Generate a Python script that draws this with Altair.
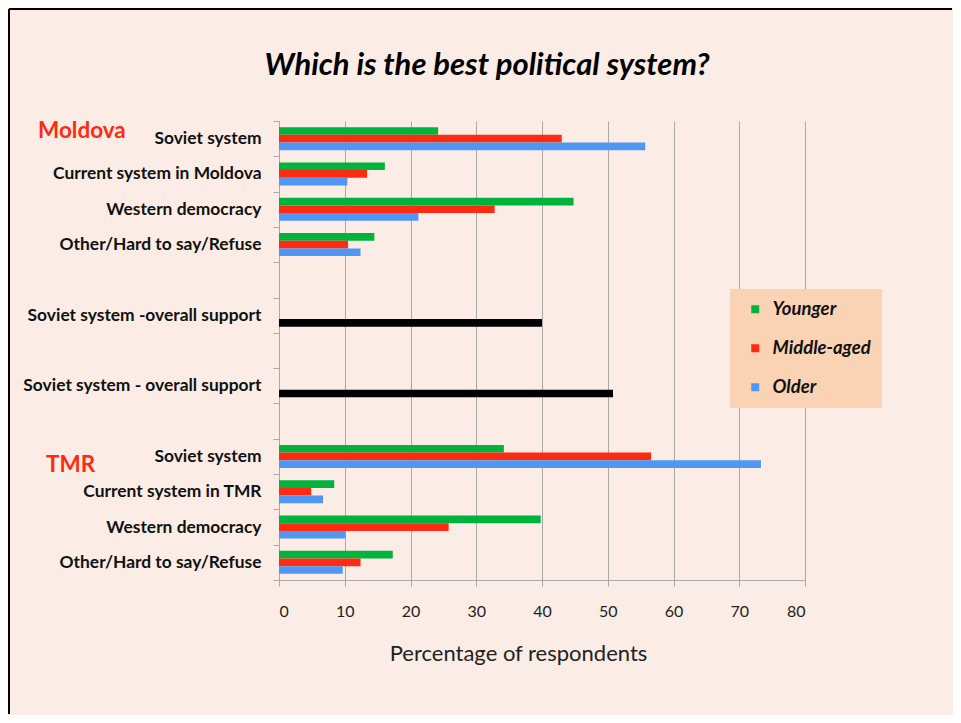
import altair as alt
import pandas as pd

# ---- data ----
labels = ["Soviet system", "Current system in Moldova", "Western democracy",
          "Other/Hard to say/Refuse", "", "Soviet system -overall support", "",
          "Soviet system - overall support", "", "Soviet system",
          "Current system in TMR", "Western democracy", "Other/Hard to say/Refuse"]
younger = [24.2, 16.1, 44.8, 14.5, None, None, None, None, None, 34.2, 8.4, 39.8, 17.3]
middle_aged = [43.0, 13.4, 32.8, 10.5, None, None, None, None, None, 56.6, 4.9, 25.8, 12.4]
older = [55.7, 10.4, 21.2, 12.4, None, None, None, None, None, 73.3, 6.7, 10.1, 9.7]
overall = [None, None, None, None, None, 40.0, None, 50.8, None, None, None, None, None]
groups = ["Younger", "Middle-aged", "Older"]
series_names = ["Younger", "Middle-aged", "Older", "Overall"]
series_colors = ["#00B33C", "#FF2A12", "#4F97F2", "#000000"]
x_ticks = [0, 10, 20, 30, 40, 50, 60, 70, 80]
region_names = ["Moldova", "TMR"]
region_rows = [0, 9]
title_text = ["Which is the best political system?"]

BG = "#FBEDE5"
FONT = "Lato"

keys = [f"{i:02d}|{l}" for i, l in enumerate(labels)]
rows = []
for k, y, m, o, ov in zip(keys, younger, middle_aged, older, overall):
    for g, v in zip(groups, (y, m, o)):
        if v is not None:
            rows.append({"key": k, "series": g, "slot": g, "value": v})
    if ov is not None:
        rows.append({"key": k, "series": "Overall", "slot": "Older", "value": ov})
df = pd.DataFrame(rows)

yscale = alt.Scale(domain=keys, paddingInner=0, paddingOuter=0)

bars = alt.Chart(df).mark_bar().encode(
    x=alt.X("value:Q", scale=alt.Scale(domain=[0, 80], nice=False),
            axis=alt.Axis(values=x_ticks, title="Percentage of respondents",
                          grid=True, gridColor="#A8A8A8", gridWidth=1,
                          domainColor="#A8A8A8", tickColor="#A8A8A8", tickSize=6,
                          labelFont=FONT, labelFontSize=16, labelColor="#222222",
                          labelPadding=17, titleFont=FONT, titleFontSize=22,
                          titleFontWeight="normal", titleColor="#222222",
                          titlePadding=24, titleX=239, titleAlign="center")),
    y=alt.Y("key:N", scale=yscale, sort=keys,
            axis=alt.Axis(title=None, labelExpr="split(datum.label, '|')[1]",
                          tickBand="extent", tickColor="#A8A8A8", tickSize=6,
                          domainColor="#A8A8A8", labelFont=FONT, labelFontSize=17.4,
                          labelFontWeight="bold", labelColor="#111111",
                          labelPadding=12, labelLimit=400, grid=False)),
    yOffset=alt.YOffset("slot:N", scale=alt.Scale(domain=groups, paddingInner=0,
                                                     paddingOuter=0.8)),
    color=alt.Color("series:N",
                    scale=alt.Scale(domain=series_names, range=series_colors),
                    legend=alt.Legend(values=groups, title=None, orient="none",
                                      legendX=451, legendY=168,
                                      fillColor="#FAD3B5", padding=11,
                                      rowPadding=20, symbolType="square",
                                      symbolSize=64, symbolStrokeWidth=0,
                                      symbolOffset=5,
                                      labelFont=FONT, labelFontSize=18.5,
                                      labelFontWeight="bold", labelFontStyle="italic",
                                      labelColor="#111111", labelOffset=8,
                                      labelLimit=250)),
)

ann_df = pd.DataFrame({"key": [keys[i] for i in region_rows], "text": region_names})
moldova = alt.Chart(ann_df.iloc[[0]]).mark_text(
    align="left", baseline="middle", font=FONT, fontSize=22.5, fontWeight="bold",
    color="#FF2A12", dy=-8
).encode(y=alt.Y("key:N", scale=yscale, sort=keys), x=alt.value(-241), text="text:N")
tmr = alt.Chart(ann_df.iloc[[1]]).mark_text(
    align="left", baseline="middle", font=FONT, fontSize=22.5, fontWeight="bold",
    color="#FF2A12", dy=9
).encode(y=alt.Y("key:N", scale=yscale, sort=keys), x=alt.value(-233), text="text:N")

title_df = pd.DataFrame({"text": title_text})
title = alt.Chart(title_df).mark_text(
    align="center", baseline="middle", font=FONT, fontSize=31, fontWeight="bold",
    fontStyle="italic", color="#000000"
).encode(x=alt.value(208), y=alt.value(-55), text="text:N")

frame_left = alt.Chart(ann_df.iloc[[0]]).mark_rule(color="black", strokeWidth=2).encode(
    x=alt.value(-270), y=alt.value(-112), y2=alt.value(593))
frame_top = alt.Chart(ann_df.iloc[[0]]).mark_rule(color="black", strokeWidth=2).encode(
    x=alt.value(-270), x2=alt.value(673), y=alt.value(-112))

chart = alt.layer(bars, moldova, tmr, title, frame_left, frame_top).properties(
    width=526, height=459, background=BG, padding=0,
).configure_view(stroke="transparent")

chart.save("out.html", embed_options={"renderer": "svg", "actions": False})
